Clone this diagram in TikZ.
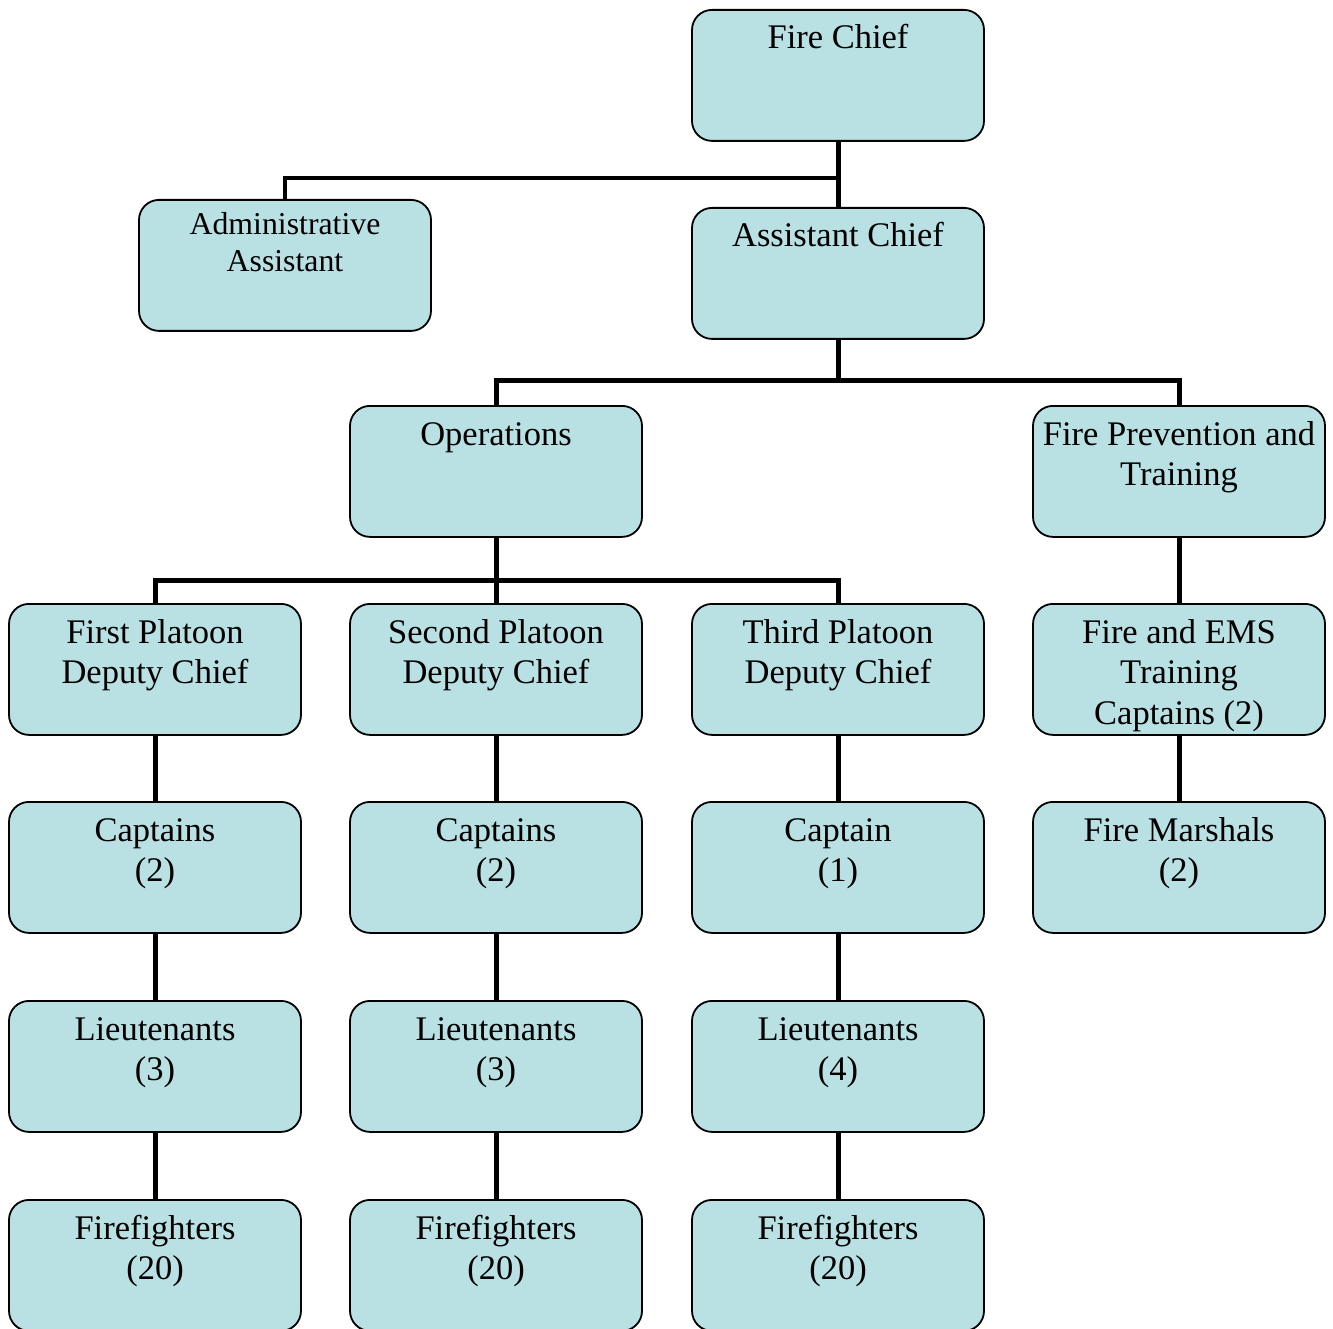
\documentclass[tikz,border=0pt]{standalone}
\usepackage{fontspec}
\setmainfont{Liberation Serif}
\usetikzlibrary{backgrounds}
\definecolor{boxfill}{RGB}{185,224,227}
\begin{document}
\begin{tikzpicture}[x=1pt,y=-1pt,
  orgbox/.style={draw=black, line width=1.8pt, fill=boxfill, rounded corners=20pt,
    minimum width=292pt, minimum height=131pt, inner sep=0pt, anchor=north},
  lbl/.style={anchor=base, align=center, inner sep=0pt, font=\fontsize{34.5}{40.5}\selectfont},
  smalllbl/.style={lbl, font=\fontsize{31.8}{37.5}\selectfont},
  conn/.style={line width=5pt, line join=miter}]
\useasboundingbox (0,0) rectangle (1333,1329);
% junction coordinates
\coordinate (j1) at (838,178);
\coordinate (j2) at (838,381);
\coordinate (j3) at (496,580);
% boxes
\node[orgbox] (fc) at (838,9) {};
\node[orgbox] (adm) at (285,199) {};
\node[orgbox] (ac) at (838,207) {};
\node[orgbox] (ops) at (496,405) {};
\node[orgbox] (fpt) at (1179,405) {};
\node[orgbox] (fpd) at (155,603) {};
\node[orgbox] (spd) at (496,603) {};
\node[orgbox] (tpd) at (838,603) {};
\node[orgbox] (ems) at (1179,603) {};
\node[orgbox] (c1) at (155,801) {};
\node[orgbox] (c2) at (496,801) {};
\node[orgbox] (c3) at (838,801) {};
\node[orgbox] (fm) at (1179,801) {};
\node[orgbox] (l1) at (155,1000) {};
\node[orgbox] (l2) at (496,1000) {};
\node[orgbox] (l3) at (838,1000) {};
\node[orgbox] (f1) at (155,1199) {};
\node[orgbox] (f2) at (496,1199) {};
\node[orgbox] (f3) at (838,1199) {};
% connectors (behind the boxes)
\begin{scope}[on background layer]
\draw[conn] (fc.south) -- (ac.north);
\draw[conn, line width=4.5pt] (adm.north) |- (j1);
\draw[conn] (ac.south) -- (j2);
\draw[conn] (ops.north) |- (j2) -| (fpt.north);
\draw[conn] (ops.south) -- (j3);
\draw[conn] (fpd.north) |- (j3) -| (tpd.north);
\draw[conn] (spd.north) -- (j3);
\draw[conn] (fpt.south) -- (ems.north);
\draw[conn] (ems.south) -- (fm.north);
\draw[conn] (fpd.south) -- (c1.north);
\draw[conn] (c1.south) -- (l1.north);
\draw[conn] (l1.south) -- (f1.north);
\draw[conn] (spd.south) -- (c2.north);
\draw[conn] (c2.south) -- (l2.north);
\draw[conn] (l2.south) -- (f2.north);
\draw[conn] (tpd.south) -- (c3.north);
\draw[conn] (c3.south) -- (l3.north);
\draw[conn] (l3.south) -- (f3.north);
\end{scope}
% labels (anchor=base is the last line's baseline)
\node[lbl] (fc-t) at ([yshift=-40pt]fc.north) {Fire Chief};
\node[smalllbl] (adm-t) at ([yshift=-73pt]adm.north) {Administrative\\Assistant};
\node[lbl] (ac-t) at ([yshift=-40pt]ac.north) {Assistant Chief};
\node[lbl] (ops-t) at ([yshift=-40pt]ops.north) {Operations};
\node[lbl] (fpt-t) at ([yshift=-80.5pt]fpt.north) {Fire Prevention and\\Training};
\node[lbl] (fpd-t) at ([yshift=-80.5pt]fpd.north) {First Platoon\\Deputy Chief};
\node[lbl] (spd-t) at ([yshift=-80.5pt]spd.north) {Second Platoon\\Deputy Chief};
\node[lbl] (tpd-t) at ([yshift=-80.5pt]tpd.north) {Third Platoon\\Deputy Chief};
\node[lbl] (ems-t) at ([yshift=-121pt]ems.north) {Fire and EMS\\Training\\Captains (2)};
\node[lbl] (c1-t) at ([yshift=-80.5pt]c1.north) {Captains\\(2)};
\node[lbl] (c2-t) at ([yshift=-80.5pt]c2.north) {Captains\\(2)};
\node[lbl] (c3-t) at ([yshift=-80.5pt]c3.north) {Captain\\(1)};
\node[lbl] (fm-t) at ([yshift=-80.5pt]fm.north) {Fire Marshals\\(2)};
\node[lbl] (l1-t) at ([yshift=-80.5pt]l1.north) {Lieutenants\\(3)};
\node[lbl] (l2-t) at ([yshift=-80.5pt]l2.north) {Lieutenants\\(3)};
\node[lbl] (l3-t) at ([yshift=-80.5pt]l3.north) {Lieutenants\\(4)};
\node[lbl] (f1-t) at ([yshift=-80.5pt]f1.north) {Firefighters\\(20)};
\node[lbl] (f2-t) at ([yshift=-80.5pt]f2.north) {Firefighters\\(20)};
\node[lbl] (f3-t) at ([yshift=-80.5pt]f3.north) {Firefighters\\(20)};
\end{tikzpicture}
\end{document}
